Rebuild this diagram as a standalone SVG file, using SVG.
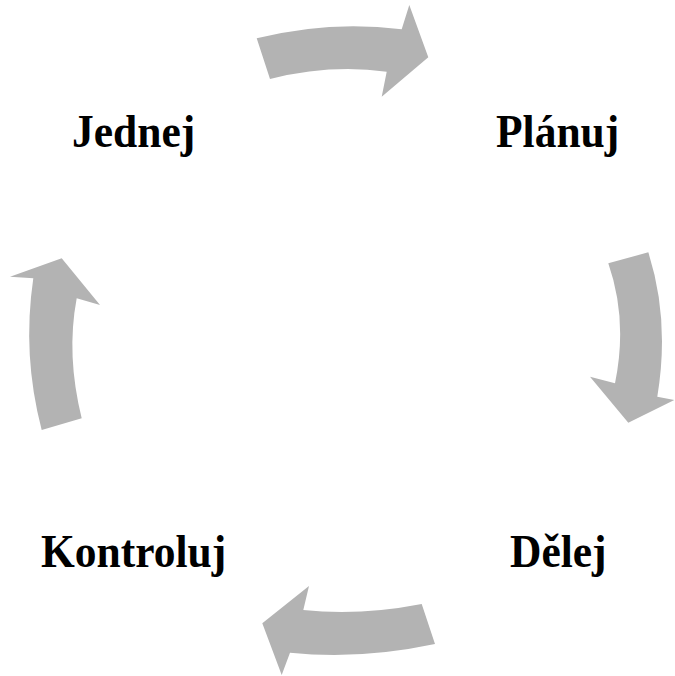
<svg xmlns="http://www.w3.org/2000/svg" width="675" height="676" viewBox="0 0 675 676">
<style>
.arr{fill:#b3b3b3}
.lbl{font-family:"Liberation Serif","Times New Roman",serif;font-weight:bold;font-size:43.5px;fill:#000}
</style>
<rect width="675" height="676" fill="#fff"/>
<g id="connectors">
<path class="arr" d="M256.7,38.3 Q330,20 401.7,29.3 L409.3,5 L428.3,57.3 L381.7,96.7 L386.7,71.7 Q330,64 270,79 Z"/>
<path class="arr" d="M608.3,263.3 Q628,320 615,383.3 L590,376.7 L628.3,422.7 L674.3,400 L657.3,396.7 Q670,320 648.3,252.3 Z"/>
<path class="arr" d="M421.7,604 Q360,616 303.3,610 L309,586 L262.3,623.3 L281.7,675 L290,652.7 Q360,660 435,644 Z"/>
<path class="arr" d="M41.7,430 Q22,355 33.3,278.3 L10,276.7 L61.7,258.3 L100,305 L76.7,298.3 Q66,355 81.7,418.3 Z"/>
</g>
<g id="jednej" transform="translate(72,147) scale(1,1.09)"><text class="lbl" x="0" y="0">Jednej</text></g>
<g id="planuj" transform="translate(496,147) scale(1,1.09)"><text class="lbl" x="0" y="0">Plánuj</text></g>
<g id="delej" transform="translate(510,567) scale(1,1.09)"><text class="lbl" x="0" y="0">Dělej</text></g>
<g id="kontroluj" transform="translate(41,567) scale(1,1.09)"><text class="lbl" x="0" y="0">Kontroluj</text></g>
</svg>
